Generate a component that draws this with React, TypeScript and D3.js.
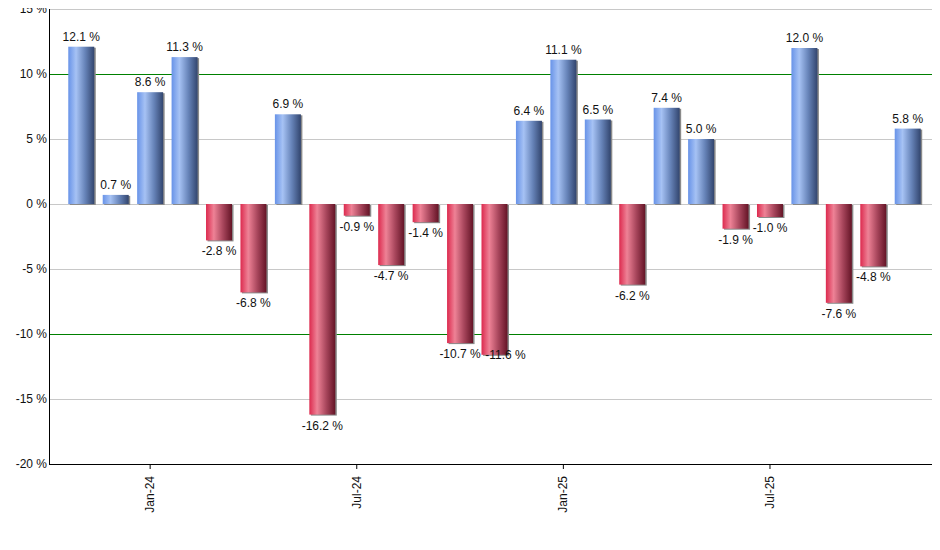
import React, { useEffect, useRef } from 'react';
import * as d3 from 'd3';

const months = [
  'Nov-23', 'Dec-23', 'Jan-24', 'Feb-24', 'Mar-24', 'Apr-24', 'May-24', 'Jun-24', 'Jul-24',
  'Aug-24', 'Sep-24', 'Oct-24', 'Nov-24', 'Dec-24', 'Jan-25', 'Feb-25', 'Mar-25', 'Apr-25',
  'May-25', 'Jun-25', 'Jul-25', 'Aug-25', 'Sep-25', 'Oct-25', 'Nov-25',
];
const returns = [
  12.1, 0.7, 8.6, 11.3, -2.8, -6.8, 6.9, -16.2, -0.9, -4.7, -1.4, -10.7, -11.6,
  6.4, 11.1, 6.5, -6.2, 7.4, 5.0, -1.9, -1.0, 12.0, -7.6, -4.8, 5.8,
];
const xTickLabels = ['Jan-24', 'Jul-24', 'Jan-25', 'Jul-25'];
const yTicks = [15, 10, 5, 0, -5, -10, -15, -20];
const thresholds = [10, -10];

const App = () => {
  const ref = useRef<SVGSVGElement>(null);

  useEffect(() => {
    const svg = d3.select(ref.current);
    svg.selectAll('*').remove();

    const left = 49;
    const right = 940;
    const top = 9;
    const bottom = 464;
    const font = 'Liberation Sans, Arial, sans-serif';

    const x = d3
      .scaleBand<string>()
      .domain(months)
      .range([left, right])
      .paddingInner(0.245)
      .paddingOuter(0.56);

    const y = d3.scaleLinear().domain([-20, 15]).range([bottom, top]);

    const defs = svg.append('defs');
    const grad = (id: string, stops: [string, string][]) => {
      const g = defs
        .append('linearGradient')
        .attr('id', id)
        .attr('x1', '0%')
        .attr('x2', '100%')
        .attr('y1', '0%')
        .attr('y2', '0%');
      stops.forEach(([o, c]) => g.append('stop').attr('offset', o).attr('stop-color', c));
    };
    grad('gPos', [
      ['0%', '#6893e8'],
      ['30%', '#a6c2f4'],
      ['65%', '#6683b8'],
      ['100%', '#32456e'],
    ]);
    grad('gNeg', [
      ['0%', '#dc2a4e'],
      ['30%', '#ee8296'],
      ['65%', '#a8465c'],
      ['100%', '#641426'],
    ]);

    // Grid lines
    svg
      .append('g')
      .selectAll('line')
      .data(yTicks)
      .join('line')
      .attr('x1', left)
      .attr('x2', right)
      .attr('y1', (d) => y(d) + 0.5)
      .attr('y2', (d) => y(d) + 0.5)
      .attr('stroke', '#c8c8c8')
      .attr('stroke-width', 1);

    // Threshold lines
    svg
      .append('g')
      .selectAll('line')
      .data(thresholds)
      .join('line')
      .attr('x1', left)
      .attr('x2', right)
      .attr('y1', (d) => y(d) + 0.5)
      .attr('y2', (d) => y(d) + 0.5)
      .attr('stroke', '#008000')
      .attr('stroke-width', 1);

    // Bars with shadow
    const bars = svg.append('g');
    const bw = x.bandwidth();
    bars
      .selectAll('rect.shadow')
      .data(returns)
      .join('rect')
      .attr('class', 'shadow')
      .attr('x', (_, i) => x(months[i])! + 1.5)
      .attr('y', (d) => Math.min(y(d), y(0)) + 1)
      .attr('width', bw)
      .attr('height', (d) => Math.abs(y(d) - y(0)))
      .attr('fill', '#8a8a8a');
    bars
      .selectAll('rect.bar')
      .data(returns)
      .join('rect')
      .attr('class', 'bar')
      .attr('x', (_, i) => x(months[i])!)
      .attr('y', (d) => Math.min(y(d), y(0)))
      .attr('width', bw)
      .attr('height', (d) => Math.abs(y(d) - y(0)))
      .attr('fill', (d) => (d >= 0 ? 'url(#gPos)' : 'url(#gNeg)'));

    // Value labels, with a simple nudge when a negative label would sit
    // just below its left neighbour's label
    const labelPos = returns.map((d, i) => {
      const cx = x(months[i])! + bw / 2;
      return { x: cx, y: d >= 0 ? y(d) - 6 : y(d) + 15 };
    });
    returns.forEach((d, i) => {
      if (i === 0 || d >= 0 || returns[i - 1] >= 0) return;
      const prev = labelPos[i - 1];
      const cur = labelPos[i];
      const dy = cur.y - prev.y;
      if (dy > 0 && dy < 16 && y(d) - y(returns[i - 1]) > 8) {
        cur.y = y(d) + 4;
        cur.x += 11;
      }
    });

    svg
      .append('g')
      .selectAll('text')
      .data(returns)
      .join('text')
      .attr('x', (_, i) => labelPos[i].x)
      .attr('y', (_, i) => labelPos[i].y)
      .attr('text-anchor', 'middle')
      .attr('font-family', font)
      .attr('font-size', 12)
      .attr('fill', '#111')
      .text((d) => `${d.toFixed(1)} %`);

    // Axes
    svg
      .append('line')
      .attr('x1', left + 0.5)
      .attr('x2', left + 0.5)
      .attr('y1', top)
      .attr('y2', bottom)
      .attr('stroke', '#000');
    svg
      .append('line')
      .attr('x1', left)
      .attr('x2', right)
      .attr('y1', bottom + 0.5)
      .attr('y2', bottom + 0.5)
      .attr('stroke', '#000');

    svg
      .append('g')
      .selectAll('text')
      .data(yTicks)
      .join('text')
      .attr('x', left - 2)
      .attr('y', (d) => y(d) + 4)
      .attr('text-anchor', 'end')
      .attr('font-family', font)
      .attr('font-size', 12)
      .attr('fill', '#111')
      .text((d) => `${d} %`);

    const xt = svg.append('g');
    xt.selectAll('line')
      .data(xTickLabels)
      .join('line')
      .attr('x1', (d) => x(d)! + bw / 2)
      .attr('x2', (d) => x(d)! + bw / 2)
      .attr('y1', bottom)
      .attr('y2', bottom + 5)
      .attr('stroke', '#000');
    xt.selectAll('text')
      .data(xTickLabels)
      .join('text')
      .attr(
        'transform',
        (d) => `translate(${x(d)! + bw / 2 + 4},${bottom + 12}) rotate(-90)`
      )
      .attr('text-anchor', 'end')
      .attr('font-family', font)
      .attr('font-size', 12)
      .attr('fill', '#111')
      .text((d) => d);
  }, []);

  return <svg ref={ref} width={940} height={550} style={{ display: 'block', margin: -8 }} />;
};

export default App;
